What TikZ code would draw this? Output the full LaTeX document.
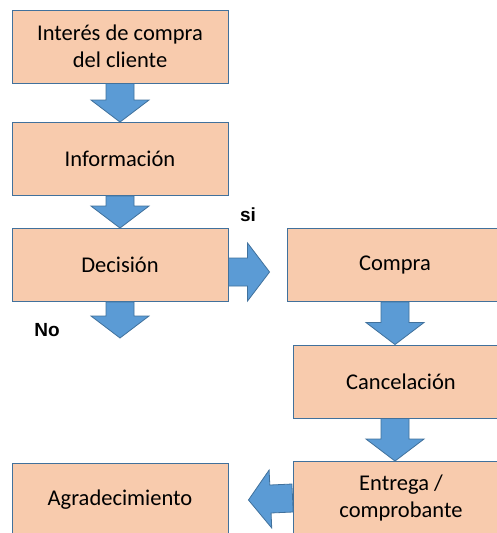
\documentclass[tikz,border=0pt]{standalone}
\usepackage{fontspec}
\setmainfont{Carlito}
\newfontfamily\etiq{Liberation Sans}
\usetikzlibrary{calc}

\definecolor{durazno}{HTML}{F8CBAD}
\definecolor{azul}{HTML}{5B9BD5}
\definecolor{borde}{HTML}{41719C}

\tikzset{
	caja/.style={draw=borde, line width=0.9pt, fill=durazno, minimum width=216pt, minimum height=73pt, inner sep=0pt, align=center, font=\fontsize{22.5}{27}\selectfont},
	flecha/.style={draw=borde, line width=0.8pt, fill=azul, line join=miter},
	etiqueta/.style={font=\etiq\bfseries\fontsize{19}{22}\selectfont}
}

% flecha de bloque: #1 inicio, #2 punta
\newcommand{\flecha}[2]{%
	\coordinate (fb) at ($(#2)!22pt!(#1)$);
	\draw[flecha] ($(#1)!14pt!90:(#2)$) -- ($(fb)!14pt!90:(#2)$) -- ($(fb)!29pt!90:(#2)$) -- (#2)
		-- ($(fb)!29pt!-90:(#2)$) -- ($(fb)!14pt!-90:(#2)$) -- ($(#1)!14pt!-90:(#2)$) -- cycle;
}

\begin{document}
\begin{tikzpicture}[x=1pt,y=-1pt]
\useasboundingbox (0,0) rectangle (497,533);
\clip (0,0) rectangle (497,533);

\node[caja] (int) at (120,46.5) {Interés de compra\\del cliente};
\node[caja] (inf) at (120,159) {Información};
\node[caja] (dec) at (120,265) {Decisión};
\node[caja] (com) at (395,265) {Compra};
\node[caja] (can) at (401,381.5) {Cancelación};
\node[caja] (ent) at (401,498) {Entrega /\\comprobante};
\node[caja] (agr) at (120,500) {Agradecimiento};

\node[etiqueta] (si) at (248,215) {si};
\node[etiqueta] (no) at (47,330) {No};

\coordinate (nofin) at (120,338);
\coordinate (si1) at ($(dec.east)+(0,7)$);
\coordinate (si2) at ($(com.west)+(-17,7)$);
\coordinate (agrfin) at ($(agr.east)+(20,0)$);

\flecha{int.south}{inf.north}
\flecha{inf.south}{dec.north}
\flecha{dec.south}{nofin}
\flecha{si1}{si2}
\flecha{com.south}{com.south |- can.north}
\flecha{com.south |- can.south}{com.south |- ent.north}
\flecha{ent.west}{agrfin}
\end{tikzpicture}
\end{document}
